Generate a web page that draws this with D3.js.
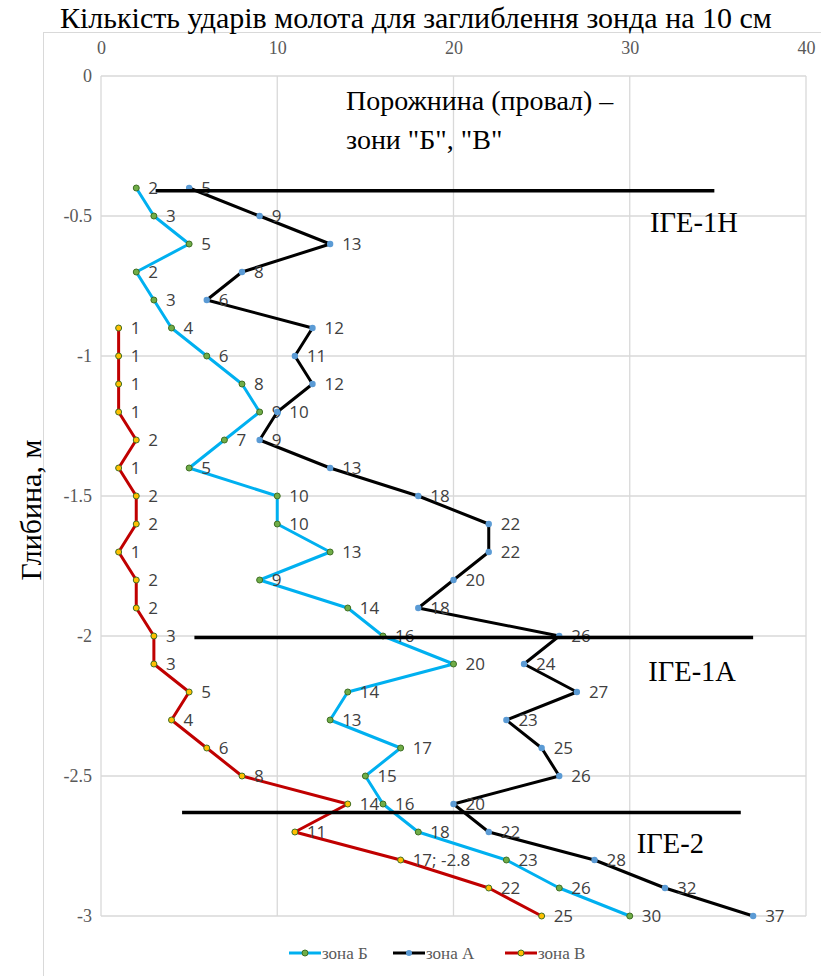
<!DOCTYPE html>
<html><head><meta charset="utf-8">
<script src="https://cdn.jsdelivr.net/npm/d3@7"></script>
<style>body{margin:0;background:#fff}</style>
</head><body>
<svg id="c" width="821" height="976"></svg>
<script>
const depths = [-0.4,-0.5,-0.6,-0.7,-0.8,-0.9,-1.0,-1.1,-1.2,-1.3,-1.4,-1.5,-1.6,-1.7,-1.8,-1.9,-2.0,-2.1,-2.2,-2.3,-2.4,-2.5,-2.6,-2.7,-2.8,-2.9,-3.0];
const zoneB = [2,3,5,2,3,4,6,8,9,7,5,10,10,13,9,14,16,20,14,13,17,15,16,18,23,26,30];
const zoneA = [5,9,13,8,6,12,11,12,10,9,13,18,22,22,20,18,26,24,27,23,25,26,20,22,28,32,37];
const depthsV = [-0.9,-1.0,-1.1,-1.2,-1.3,-1.4,-1.5,-1.6,-1.7,-1.8,-1.9,-2.0,-2.1,-2.2,-2.3,-2.4,-2.5,-2.6,-2.7,-2.8,-2.9,-3.0];
const zoneV = [1,1,1,1,2,1,2,2,1,2,2,3,3,5,4,6,8,14,11,17,22,25];
const labelsV = ["1","1","1","1","2","1","2","2","1","2","2","3","3","5","4","6","8","14","11","17; -2.8","22","25"];
const seriesNames = ["зона Б","зона А","зона В"];
const xTicks = [0,10,20,30,40];
const yTicks = [0,-0.5,-1,-1.5,-2,-2.5,-3];
const boundaryDepth = [-0.41,-2.005,-2.63];
const boundaryFrom = [3.1,5.3,4.6];
const boundaryTo = [34.8,37.0,36.3];
const layerNames = ["ІГЕ-1Н","ІГЕ-1А","ІГЕ-2"];
const layerX = [31.15,31.05,30.4];
const layerY = [-0.52,-2.125,-2.74];
const title = "Кількість ударів молота для заглиблення зонда на 10 см";
const yTitle = "Глибина, м";
const note = ["Порожнина (провал) –","зони \"Б\", \"В\""];

const svg = d3.select("#c");
const x = d3.scaleLinear().domain([0,40]).range([101,806]);
const y = d3.scaleLinear().domain([0,-3]).range([76,916]);
const serif = "Liberation Serif";
const sans = "Open Sans";

svg.append("rect").attr("x",43.5).attr("y",32.5).attr("width",820).attr("height",1000)
  .attr("fill","none").attr("stroke","#d9d9d9").attr("stroke-width",1);

svg.append("g").selectAll("line").data(xTicks).join("line")
  .attr("x1",d=>x(d)).attr("x2",d=>x(d)).attr("y1",y(0)).attr("y2",y(-3))
  .attr("stroke","#d9d9d9").attr("stroke-width",1.3);
svg.append("g").selectAll("line").data(yTicks).join("line")
  .attr("x1",x(0)).attr("x2",x(40)).attr("y1",d=>y(d)).attr("y2",d=>y(d))
  .attr("stroke","#d9d9d9").attr("stroke-width",1.3);

const xa = svg.append("g").attr("transform",`translate(0,${y(0)-19})`)
  .call(d3.axisTop(x).tickValues(xTicks).tickSize(0).tickFormat(d3.format("d")));
const ya = svg.append("g").attr("transform",`translate(${x(0)-6},0)`)
  .call(d3.axisLeft(y).tickValues(yTicks).tickSize(0).tickFormat(d=>d===0?"0":String(d)));
[xa,ya].forEach(a=>{a.select(".domain").remove();
  a.selectAll("text").attr("font-family",serif).attr("font-size",18).attr("fill","#595959");});
xa.selectAll("text").attr("dy","0");

svg.append("text").attr("x",60).attr("y",28).attr("font-family",serif).attr("font-size",30)
  .attr("fill","#000").text(title);
svg.append("text").attr("transform",`translate(30,${y(-1.55)}) rotate(-90)`).attr("text-anchor","middle")
  .attr("dy","0.35em").attr("font-family",serif).attr("font-size",30).attr("fill","#000").text(yTitle);

svg.append("g").selectAll("text").data(note).join("text")
  .attr("x",x(13.9)).attr("y",(d,i)=>y(-0.12-i*0.14)).attr("font-family",serif).attr("font-size",28)
  .attr("fill","#000").text(d=>d);

const line = d3.line().x(d=>x(d[0])).y(d=>y(d[1]));
const series = [
  {name:seriesNames[0], vals:zoneB, deps:depths, labels:zoneB.map(String), stroke:"#00B0F0", fill:"#70AD47", mstroke:"#3f6f25", r:3},
  {name:seriesNames[1], vals:zoneA, deps:depths, labels:zoneA.map(String), stroke:"#000000", fill:"#5B9BD5", mstroke:"none", r:3.2},
  {name:seriesNames[2], vals:zoneV, deps:depthsV, labels:labelsV, stroke:"#C00000", fill:"#FFC000", mstroke:"#3f6f25", r:3}
];
series.forEach(s=>{
  const pts = s.vals.map((v,i)=>[v,s.deps[i],s.labels[i]]);
  const g = svg.append("g");
  g.append("path").datum(pts).attr("d",line).attr("fill","none").attr("stroke",s.stroke)
    .attr("stroke-width",3).attr("stroke-linejoin","round");
  g.selectAll("circle").data(pts).join("circle").attr("cx",d=>x(d[0])).attr("cy",d=>y(d[1]))
    .attr("r",s.r).attr("fill",s.fill).attr("stroke",s.mstroke).attr("stroke-width",1);
  s.g = g; s.pts = pts;
});
series.forEach(s=>{
  s.g.selectAll("text").data(s.pts).join("text").attr("x",d=>x(d[0])+12).attr("y",d=>y(d[1]))
    .attr("dy","0.36em").attr("font-family",sans).attr("font-size",17).attr("fill","#404040").text(d=>d[2]);
});

svg.append("g").selectAll("line").data(boundaryDepth).join("line")
  .attr("x1",(d,i)=>x(boundaryFrom[i])).attr("x2",(d,i)=>x(boundaryTo[i]))
  .attr("y1",d=>y(d)).attr("y2",d=>y(d)).attr("stroke","#000").attr("stroke-width",3.5);
svg.append("g").selectAll("text").data(layerNames).join("text")
  .attr("x",(d,i)=>x(layerX[i])).attr("y",(d,i)=>y(layerY[i])).attr("dy","0.35em")
  .attr("font-family",serif).attr("font-size",28.5).attr("fill","#000").text(d=>d);

const lg = svg.append("g").attr("transform","translate(0,953)");
const legX = [289,393,505];
series.forEach((s,i)=>{
  const gi = lg.append("g").attr("transform",`translate(${legX[i]},0)`);
  gi.append("line").attr("x1",0).attr("x2",32).attr("stroke",s.stroke).attr("stroke-width",3);
  gi.append("circle").attr("cx",16).attr("r",3).attr("fill",s.fill).attr("stroke",s.mstroke).attr("stroke-width",1);
  gi.append("text").attr("x",33).attr("dy","0.35em").attr("font-family",serif).attr("font-size",17)
    .attr("fill","#595959").text(s.name);
});
</script>
</body></html>
